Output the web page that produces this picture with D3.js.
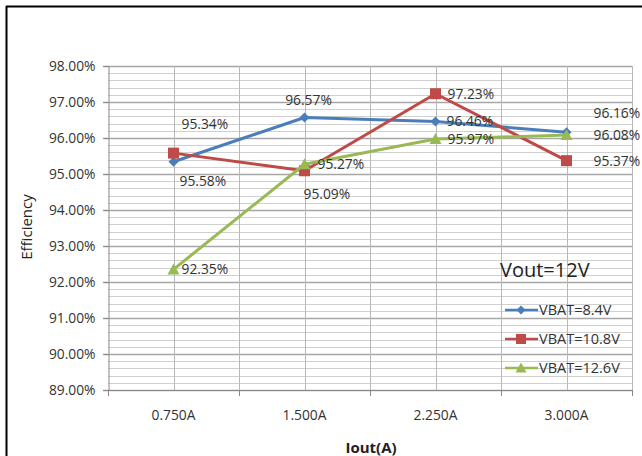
<!DOCTYPE html>
<html>
<head>
<meta charset="utf-8">
<script src="https://cdn.jsdelivr.net/npm/d3@7"></script>
<style>
  body { margin: 0; background: #fff; }
  svg { font-family: "Open Sans", sans-serif; }
</style>
</head>
<body>
<div class="chart"></div>
<script>
// data
var categories = ["0.750A", "1.500A", "2.250A", "3.000A"];
var vbat84 = [95.34, 96.57, 96.46, 96.16];
var vbat108 = [95.58, 95.09, 97.23, 95.37];
var vbat126 = [92.35, 95.27, 95.97, 96.08];
var seriesNames = ["VBAT=8.4V", "VBAT=10.8V", "VBAT=12.6V"];
var yTicks = [89, 90, 91, 92, 93, 94, 95, 96, 97, 98];

// label offsets (dx, dy, anchor) for each point, per series
var labelPos = [
    [[8, -38, "start"], [4, -17, "middle"], [11, 0, "start"], [27, -19, "start"]],
    [[6, 28, "start"], [-1, 23, "start"], [12, 0, "start"], [27, 0, "start"]],
    [[8, 0, "start"], [13, 0, "start"], [12, 0, "start"], [27, 0, "start"]]
];

var colors = ["#4a7ebb", "#be4b48", "#98b954"];
var series = [vbat84, vbat108, vbat126];

var W = 642, H = 456;
var plot = {left: 108, right: 632, top: 66, bottom: 390};
var fs = 13.8;

var svg = d3.select(".chart").append("svg")
    .attr("width", W)
    .attr("height", H);

// outer frame (only top and left visible)
svg.append("line").attr("x1", 6).attr("x2", W).attr("y1", 6.5).attr("y2", 6.5)
    .attr("stroke", "#000").attr("stroke-width", 2);
svg.append("line").attr("x1", 6.5).attr("x2", 6.5).attr("y1", 6).attr("y2", H)
    .attr("stroke", "#000").attr("stroke-width", 2);

var x = d3.scalePoint().domain(categories).range([plot.left, plot.right]).padding(0.5);
var y = d3.scaleLinear().domain([89, 98]).range([plot.bottom, plot.top]);
var step = x.step();

// minor horizontal grid
var minor = d3.range(89, 98.001, 0.2);
svg.append("g").selectAll("line").data(minor).enter().append("line")
    .attr("x1", plot.left).attr("x2", plot.right)
    .attr("y1", function(d) { return Math.round(y(d)) + 0.5; })
    .attr("y2", function(d) { return Math.round(y(d)) + 0.5; })
    .attr("stroke", "#d0d0d0");

// major horizontal grid
svg.append("g").selectAll("line").data(yTicks).enter().append("line")
    .attr("x1", plot.left - 5).attr("x2", plot.right)
    .attr("y1", function(d) { return Math.round(y(d)) + 0.5; })
    .attr("y2", function(d) { return Math.round(y(d)) + 0.5; })
    .attr("stroke", "#a6a6a6")
    .attr("stroke-width", 1.3);

// vertical grid: category centers and boundaries
var vx = [];
categories.forEach(function(c, i) {
    vx.push(x(c));
    vx.push(x(c) + step / 2);
});
svg.append("g").selectAll("line").data(vx).enter().append("line")
    .attr("x1", function(d) { return Math.round(d) + 0.5; })
    .attr("x2", function(d) { return Math.round(d) + 0.5; })
    .attr("y1", plot.top).attr("y2", plot.bottom)
    .attr("stroke", "#b8b8b8");

// axes
var yAxis = svg.append("g")
    .attr("transform", "translate(" + (plot.left + 0.5) + ",0)")
    .call(d3.axisLeft(y).tickValues(yTicks).tickSize(5).tickPadding(8)
        .tickFormat(function(d) { return d.toFixed(2) + "%"; }));
yAxis.select(".domain").attr("stroke", "#888");
yAxis.selectAll(".tick line").attr("stroke", "#888");
yAxis.selectAll("text").attr("font-size", fs).attr("fill", "#333")
    .attr("font-family", "Open Sans");

var bounds = [plot.left].concat(categories.map(function(c) { return x(c) + step / 2; }));
svg.append("line").attr("x1", plot.left).attr("x2", plot.right)
    .attr("y1", plot.bottom + 0.5).attr("y2", plot.bottom + 0.5).attr("stroke", "#888");
svg.append("g").selectAll("line").data(bounds).enter().append("line")
    .attr("x1", function(d) { return Math.round(d) + 0.5; })
    .attr("x2", function(d) { return Math.round(d) + 0.5; })
    .attr("y1", plot.bottom).attr("y2", plot.bottom + 6)
    .attr("stroke", "#888");

svg.append("g").selectAll("text").data(categories).enter().append("text")
    .attr("x", function(d) { return x(d); })
    .attr("y", 420)
    .attr("text-anchor", "middle")
    .attr("font-size", fs)
    .attr("fill", "#333")
    .text(function(d) { return d; });

// axis titles
svg.append("text")
    .attr("x", 371).attr("y", 453)
    .attr("text-anchor", "middle")
    .attr("font-size", 15)
    .attr("font-weight", "bold")
    .attr("fill", "#222")
    .text("Iout(A)");

svg.append("text")
    .attr("transform", "translate(32,227) rotate(-90)")
    .attr("text-anchor", "middle")
    .attr("font-size", 15)
    .attr("fill", "#222")
    .text("Efficiency");

// lines
var line = d3.line()
    .x(function(d, i) { return x(categories[i]); })
    .y(function(d) { return y(d); });

function marker(sel, k, cx, cy, s) {
    if (k === 0) {
        sel.append("path")
            .attr("d", "M" + cx + "," + (cy - s) + "L" + (cx + s) + "," + cy + "L" + cx + "," + (cy + s) + "L" + (cx - s) + "," + cy + "Z")
            .attr("fill", colors[k]);
    } else if (k === 1) {
        sel.append("rect")
            .attr("x", cx - s).attr("y", cy - s)
            .attr("width", 2 * s).attr("height", 2 * s)
            .attr("fill", colors[k]);
    } else {
        sel.append("path")
            .attr("d", "M" + cx + "," + (cy - s - 1) + "L" + (cx + s + 1) + "," + (cy + s) + "L" + (cx - s - 1) + "," + (cy + s) + "Z")
            .attr("fill", colors[k]);
    }
}

var msize = [5, 5.5, 5];

series.forEach(function(vals, k) {
    var g = svg.append("g");
    g.append("path")
        .datum(vals)
        .attr("d", line)
        .attr("fill", "none")
        .attr("stroke", colors[k])
        .attr("stroke-width", 3)
        .attr("stroke-linejoin", "round");
    vals.forEach(function(v, i) {
        marker(g, k, x(categories[i]), y(v), msize[k]);
    });
});

// data labels
series.forEach(function(vals, k) {
    svg.append("g").selectAll("text").data(vals).enter().append("text")
        .attr("x", function(d, i) { return x(categories[i]) + labelPos[k][i][0]; })
        .attr("y", function(d, i) { return y(d) + labelPos[k][i][1]; })
        .attr("dy", "0.35em")
        .attr("text-anchor", function(d, i) { return labelPos[k][i][2]; })
        .attr("font-size", fs)
        .attr("fill", "#333")
        .text(function(d) { return d.toFixed(2) + "%"; });
});

// legend
svg.append("text")
    .attr("x", 500).attr("y", 277)
    .attr("font-size", 20)
    .attr("fill", "#222")
    .text("Vout=12V");

seriesNames.forEach(function(name, k) {
    var ly = 310 + k * 29;
    var lg = svg.append("g");
    lg.append("line")
        .attr("x1", 505).attr("x2", 538)
        .attr("y1", ly).attr("y2", ly)
        .attr("stroke", colors[k]).attr("stroke-width", 2.5);
    marker(lg, k, 521, ly, msize[k] - 0.5);
    lg.append("text")
        .attr("x", 539).attr("y", ly)
        .attr("dy", "0.35em")
        .attr("font-size", 14.5)
        .attr("fill", "#333")
        .text(name);
});
</script>
</body>
</html>
